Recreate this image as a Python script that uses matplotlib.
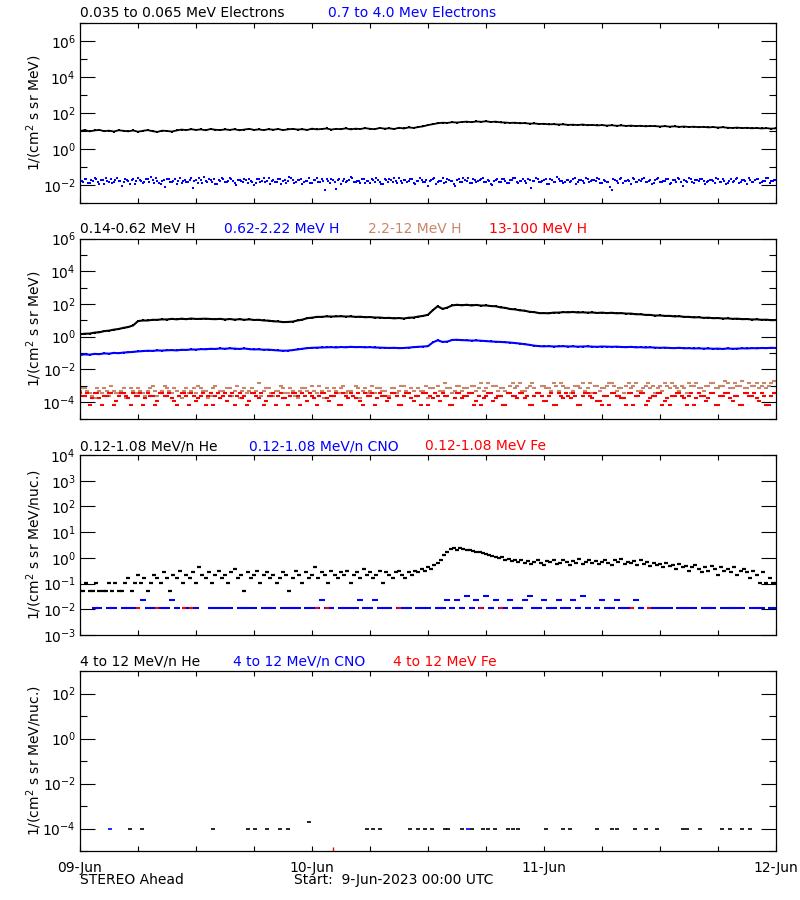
import numpy as np
import matplotlib
matplotlib.use('Agg')
import matplotlib.pyplot as plt
from matplotlib.ticker import FixedLocator, NullFormatter, FuncFormatter

# ---------------- data (hours since 09-Jun-2023 00:00 UTC) ----------------
day_labels = ['09-Jun', '10-Jun', '11-Jun', '12-Jun']
day_hours = [0, 24, 48, 72]
six_hours = [6, 12, 18, 30, 36, 42, 54, 60, 66]

t30 = np.arange(145) * 0.5          # 30-min samples
t30b = np.arange(144) * 0.5 + 0.25  # 30-min samples, offset 15 min
t20 = np.arange(217) / 3.0          # 20-min samples
t20b = np.arange(216) / 3.0 + 1 / 6  # 20-min samples, offset 10 min

# Panel 1: electrons, log10 flux
elec_lo_log = [1.00,1.05,0.98,1.03,1.06,0.99,1.02,0.97,1.04,1.01,
               0.98,1.03,0.96,1.01,1.05,0.99,0.95,1.02,1.00,0.97,
               1.03,1.08,1.05,1.10,1.06,1.09,1.04,1.11,1.07,1.05,
               1.09,1.06,1.10,1.04,1.08,1.12,1.06,1.09,1.05,1.10,
               1.07,1.11,1.05,1.09,1.12,1.08,1.10,1.06,1.13,1.09,
               1.11,1.14,1.08,1.12,1.10,1.15,1.09,1.13,1.11,1.16,
               1.12,1.10,1.17,1.13,1.15,1.11,1.18,1.14,1.20,1.17,
               1.22,1.26,1.33,1.38,1.43,1.46,1.45,1.49,1.47,1.50,
               1.52,1.49,1.53,1.51,1.54,1.50,1.52,1.48,1.47,1.45,
               1.46,1.43,1.44,1.41,1.42,1.39,1.40,1.37,1.38,1.36,
               1.37,1.34,1.35,1.33,1.36,1.32,1.34,1.31,1.33,1.30,
               1.32,1.29,1.31,1.28,1.30,1.27,1.29,1.26,1.28,1.27,
               1.25,1.27,1.24,1.26,1.23,1.25,1.22,1.24,1.21,1.23,
               1.20,1.22,1.19,1.21,1.18,1.17,1.19,1.16,1.18,1.15,
               1.17,1.14,1.16,1.13,1.15]

elec_hi_log = [-1.72,-1.85,-1.64,-1.90,-1.78,-1.68,-1.95,-1.74,-1.60,-1.82,
               -1.88,-1.70,-1.76,-2.05,-1.66,-1.80,-1.73,-1.92,-1.62,-1.79,
               -1.84,-1.69,-1.58,-1.87,-1.75,-1.97,-1.71,-1.65,-1.83,-1.77,
               -1.93,-1.61,-1.79,-1.86,-1.70,-2.18,-1.74,-1.63,-1.89,-1.76,
               -1.68,-1.81,-1.95,-1.72,-1.59,-1.84,-1.78,-1.67,-1.91,-1.73,
               -1.80,-1.64,-1.87,-1.75,-2.02,-1.69,-1.82,-1.60,-1.77,-1.94,
               -1.71,-1.85,-1.66,-1.79,-1.88,-1.57,-1.74,-1.83,-1.70,-1.96,
               -1.76,-1.62,-1.89,-1.73,-1.81,-1.67,-2.25,-1.78,-1.64,-1.86,
               -1.72,-1.92,-1.69,-1.80,-1.58,-1.84,-1.75,-1.90,-1.66,-1.79,
               -1.87,-1.71,-1.63,-1.83,-1.97,-1.74,-1.68,-1.82,-1.76,-1.61,
               -1.89,-1.73,-1.80,-1.65,-1.93,-1.77,-1.70,-1.85,-2.08,-1.72,
               -1.60,-1.81,-1.75,-1.88,-1.67,-1.79,-1.94,-1.71,-1.84,-1.63,
               -1.78,-1.90,-1.69,-1.82,-1.74,-1.59,-1.86,-1.76,-1.98,-1.70,
               -1.83,-1.66,-1.79,-1.91,-1.73,-1.62,-1.87,-1.75,-1.80,-1.68,
               -2.15,-1.77,-1.64,-1.85,-1.72,-1.92,-1.69,-1.81,-1.58,-1.76,
               -1.88,-1.71,-1.84,-1.66,-1.95,-1.74,-1.79,-1.61,-1.86,-1.73,
               -1.80,-1.67,-1.90,-1.75,-1.83,-2.30,-1.70,-1.87,-1.63,-1.78,
               -1.72,-1.93,-1.68,-1.82,-1.76,-1.59,-1.85,-1.74,-1.89,-1.66,
               -1.81,-1.77,-1.64,-1.92,-1.71,-1.84,-1.69,-2.04,-1.75,-1.62,
               -1.86,-1.73,-1.80,-1.67,-1.94,-1.78,-1.70,-1.88,-1.65,-1.83,
               -1.76,-1.91,-1.68,-1.79,-1.60,-1.85,-1.74,-1.97,-1.72,-1.81,
               -1.66,-1.87,-1.75,-1.63,-1.89,-1.77,-1.70]

elec_hi_log_b = [-1.79,-1.66,-1.88,-1.73,-1.62,-1.84,-1.70,-1.93,-1.77,-1.68,
                 -1.81,-1.59,-1.75,-1.86,-1.71,-1.96,-1.64,-1.80,-1.74,-1.90,
                 -1.67,-1.83,-1.72,-1.61,-1.87,-1.76,-2.10,-1.69,-1.82,-1.65,
                 -1.78,-1.91,-1.70,-1.84,-1.63,-1.77,-1.88,-1.72,-1.58,-1.85,
                 -1.74,-1.66,-1.92,-1.79,-1.68,-1.83,-1.61,-1.76,-2.00,-1.71,
                 -1.86,-1.73,-1.64,-1.81,-1.90,-1.67,-1.78,-1.85,-1.62,-1.75,
                 -1.82,-1.69,-1.94,-1.72,-1.80,-1.60,-1.87,-1.74,-1.66,-1.83,
                 -1.77,-1.89,-1.70,-1.63,-1.84,-1.76,-1.68,-1.91,-1.73,-2.20,
                 -1.65,-1.79,-1.86,-1.71,-1.60,-1.82,-1.75,-1.67,-1.88,-1.78,
                 -1.64,-1.85,-1.72,-1.95,-1.69,-1.81,-1.74,-1.62,-1.87,-1.77,
                 -1.70,-1.83,-1.66,-1.90,-1.76,-1.59,-1.84,-1.73,-1.80,-1.68,
                 -1.92,-1.75,-1.63,-1.86,-1.71,-1.79,-2.06,-1.67,-1.82,-1.74,
                 -1.61,-1.88,-1.72,-1.78,-1.65,-1.85,-1.70,-1.93,-1.76,-1.64,
                 -1.81,-1.69,-1.87,-1.74,-1.60,-1.83,-1.77,-1.66,-1.90,-1.72,
                 -1.79,-1.62,-1.85,-1.75,-1.68,-1.96,-1.73,-1.81,-1.64,-1.78,
                 -1.86,-1.70,-1.76,-1.59,-1.84,-1.72,-1.89,-1.67,-1.80,-1.74,
                 -1.63,-1.87,-1.71,-1.82,-2.12,-1.69,-1.77,-1.65,-1.91,-1.75,
                 -1.80,-1.61,-1.86,-1.73,-1.68,-1.84,-1.76,-1.94,-1.70,-1.62,
                 -1.83,-1.78,-1.66,-1.88,-1.72,-1.59,-1.85,-1.74,-1.81,-1.67,
                 -1.90,-1.73,-1.64,-1.79,-1.86,-1.70,-1.77,-1.62,-1.84,-1.68,
                 -1.92,-1.75,-1.81,-1.65,-1.87,-1.71,-1.78,-1.60,-1.83,-1.74,
                 -1.69,-1.85,-1.76,-1.63,-1.80,-1.72]

# Panel 2: protons, log10 flux
h1_log = [0.15,0.18,0.19,0.25,0.27,0.34,0.37,0.43,0.47,0.54,
          0.59,0.69,0.95,0.99,0.99,1.03,1.03,1.06,1.05,1.09,
          1.06,1.10,1.07,1.11,1.08,1.09,1.10,1.08,1.07,1.09,
          1.05,1.08,1.04,1.07,1.03,1.06,1.02,1.03,0.99,0.98,
          0.94,0.93,0.89,0.90,0.92,0.99,1.04,1.13,1.16,1.21,
          1.21,1.24,1.23,1.24,1.25,1.23,1.24,1.21,1.22,1.19,
          1.20,1.17,1.17,1.14,1.15,1.12,1.14,1.11,1.16,1.17,
          1.23,1.27,1.34,1.62,1.86,1.70,1.78,1.91,1.95,1.92,
          1.95,1.91,1.94,1.90,1.91,1.87,1.86,1.79,1.76,1.69,
          1.67,1.61,1.59,1.52,1.50,1.44,1.44,1.43,1.47,1.47,
          1.50,1.49,1.51,1.48,1.49,1.47,1.48,1.45,1.47,1.44,
          1.46,1.43,1.44,1.41,1.41,1.37,1.37,1.33,1.33,1.29,
          1.30,1.27,1.27,1.24,1.25,1.21,1.21,1.18,1.19,1.15,
          1.16,1.13,1.14,1.11,1.12,1.09,1.10,1.07,1.08,1.05,
          1.06,1.03,1.04,1.01,1.02]

h2_log = [-1.12,-1.08,-1.10,-1.05,-1.07,-1.02,-1.04,-0.99,-1.01,-0.97,
          -0.95,-0.93,-0.90,-0.88,-0.86,-0.87,-0.84,-0.85,-0.83,-0.82,
          -0.84,-0.80,-0.81,-0.78,-0.79,-0.76,-0.77,-0.74,-0.75,-0.72,
          -0.74,-0.71,-0.73,-0.75,-0.72,-0.76,-0.78,-0.77,-0.80,-0.79,
          -0.82,-0.84,-0.86,-0.85,-0.82,-0.78,-0.74,-0.70,-0.68,-0.67,
          -0.66,-0.65,-0.64,-0.66,-0.63,-0.65,-0.62,-0.64,-0.63,-0.65,
          -0.64,-0.66,-0.67,-0.68,-0.69,-0.68,-0.70,-0.69,-0.67,-0.64,
          -0.62,-0.60,-0.58,-0.35,-0.22,-0.32,-0.30,-0.20,-0.19,-0.21,
          -0.22,-0.24,-0.23,-0.25,-0.27,-0.29,-0.31,-0.32,-0.34,-0.36,
          -0.39,-0.42,-0.46,-0.50,-0.55,-0.58,-0.59,-0.58,-0.60,-0.59,
          -0.58,-0.60,-0.59,-0.61,-0.60,-0.59,-0.61,-0.62,-0.60,-0.61,
          -0.62,-0.61,-0.63,-0.64,-0.62,-0.65,-0.64,-0.66,-0.65,-0.67,
          -0.68,-0.67,-0.69,-0.70,-0.68,-0.71,-0.70,-0.72,-0.71,-0.73,
          -0.72,-0.74,-0.73,-0.75,-0.72,-0.74,-0.73,-0.71,-0.72,-0.70,
          -0.71,-0.69,-0.70,-0.68,-0.69]

h3_log = [-3.3,-3.15,-3.45,-3.75,-3.3,-3.15,-3.6,-3.3,-3.45,-3.15,
          -3.75,-3.3,-3.15,-3.45,-3.3,-3.0,-3.6,-3.3,-3.15,-3.45,
          -3.3,-3.75,-3.15,-3.3,-3.45,-3.15,-3.3,-3.6,-3.0,-3.3,
          -3.45,-3.15,-3.3,-3.75,-3.15,-3.3,-3.45,-2.85,-3.3,-3.15,
          -3.6,-3.3,-3.15,-3.45,-3.3,-3.75,-3.15,-3.3,-3.0,-3.45,
          -3.3,-3.15,-3.6,-3.3,-3.15,-3.45,-3.3,-3.0,-3.75,-3.15,
          -3.3,-3.45,-3.15,-3.3,-3.6,-3.15,-3.3,-3.0,-3.45,-3.3,
          -3.15,-3.3,-3.75,-3.15,-3.0,-3.3,-3.15,-3.45,-3.0,-3.3,
          -3.15,-3.0,-3.3,-2.85,-3.15,-3.45,-3.0,-3.15,-3.3,-3.0,
          -3.15,-2.85,-3.3,-3.0,-3.15,-3.45,-3.0,-3.15,-2.85,-3.3,
          -3.0,-3.15,-3.3,-3.0,-2.85,-3.15,-3.45,-3.0,-3.15,-3.0,
          -2.85,-3.3,-3.15,-3.0,-3.15,-2.85,-3.3,-3.0,-3.15,-3.45,
          -3.0,-2.85,-3.15,-3.0,-3.3,-3.15,-2.85,-3.0,-3.15,-3.3,
          -3.0,-2.85,-3.15,-3.0,-2.85,-3.15,-3.0,-2.7,-3.15,-3.0,
          -2.85,-3.0,-3.15,-2.85,-2.7]

h3_log_b = [-3.15,-3.3,-3.6,-3.15,-3.45,-3.3,-3.0,-3.45,-3.3,-3.75,
            -3.15,-3.45,-3.3,-3.6,-3.15,-3.3,-3.45,-3.0,-3.3,-3.15,
            -3.6,-3.3,-3.45,-3.15,-3.0,-3.3,-3.75,-3.15,-3.45,-3.3,
            -3.15,-3.6,-3.0,-3.3,-3.45,-3.15,-3.3,-3.6,-3.15,-3.45,
            -3.3,-3.0,-3.45,-3.15,-3.6,-3.3,-3.15,-3.45,-3.3,-3.0,
            -3.75,-3.3,-3.15,-3.45,-3.0,-3.3,-3.6,-3.15,-3.3,-3.45,
            -3.0,-3.15,-3.3,-3.6,-3.15,-3.45,-3.0,-3.3,-3.15,-3.6,
            -3.3,-3.0,-3.15,-3.45,-3.3,-2.85,-3.15,-3.3,-3.0,-3.15,
            -3.45,-3.0,-3.15,-3.3,-2.85,-3.0,-3.3,-3.15,-3.45,-2.85,
            -3.0,-3.3,-3.15,-2.85,-3.45,-3.0,-3.15,-3.3,-3.0,-2.85,
            -3.15,-3.45,-3.0,-3.15,-3.3,-2.85,-3.0,-3.3,-3.15,-2.85,
            -3.0,-3.15,-3.45,-2.85,-3.0,-3.3,-3.15,-2.85,-3.0,-3.15,
            -3.3,-3.0,-2.85,-3.15,-3.0,-3.45,-3.0,-2.85,-3.15,-3.0,
            -2.85,-3.15,-3.0,-2.7,-3.15,-2.85,-3.0,-3.15,-2.85,-3.0,
            -3.15,-2.85,-3.0,-2.7]

h4_log = [-3.45,-3.6,-4.2,-3.45,-3.75,-3.6,-3.45,-4.2,-3.6,-3.45,
          -3.75,-3.45,-3.6,-4.2,-3.45,-3.6,-3.9,-3.45,-3.6,-3.75,
          -4.2,-3.45,-3.6,-3.45,-3.9,-3.6,-4.2,-3.45,-3.6,-3.75,
          -3.45,-3.6,-4.2,-3.45,-3.6,-3.9,-3.45,-3.75,-4.2,-3.6,
          -3.45,-3.6,-3.75,-4.2,-3.45,-3.6,-3.45,-3.9,-3.6,-4.2,
          -3.45,-3.75,-3.6,-3.45,-4.2,-3.6,-3.45,-3.75,-3.9,-3.45,
          -3.6,-4.2,-3.45,-3.6,-3.75,-3.45,-4.2,-3.6,-3.45,-3.9,
          -3.6,-3.45,-4.2,-3.75,-3.6,-3.45,-3.6,-4.2,-3.45,-3.75,
          -3.6,-3.45,-3.9,-4.2,-3.6,-3.45,-3.75,-3.6,-4.2,-3.45,
          -3.6,-3.45,-3.75,-4.2,-3.6,-3.45,-3.9,-3.6,-4.2,-3.45,
          -3.75,-3.6,-3.45,-4.2,-3.6,-3.45,-3.75,-3.9,-4.2,-3.6,
          -3.45,-3.6,-3.75,-4.2,-3.45,-3.6,-3.45,-4.2,-3.75,-3.6,
          -3.45,-3.9,-4.2,-3.6,-3.45,-3.75,-3.6,-4.2,-3.45,-3.6,
          -3.75,-3.45,-4.2,-3.6,-3.45,-3.9,-3.6,-4.2,-3.45,-3.6,
          -3.75,-3.45,-4.2,-3.6,-3.45]

h4_log_b = [-3.6,-3.45,-3.75,-3.45,-4.2,-3.6,-3.45,-3.9,-3.45,-3.6,
            -4.2,-3.6,-3.45,-3.75,-3.6,-4.2,-3.45,-3.6,-3.45,-3.9,
            -3.6,-3.45,-4.2,-3.6,-3.75,-3.45,-3.6,-4.2,-3.45,-3.6,
            -3.9,-3.45,-3.6,-3.75,-4.2,-3.45,-3.6,-3.45,-3.9,-3.6,
            -4.2,-3.45,-3.75,-3.6,-3.45,-4.2,-3.6,-3.45,-3.75,-3.6,
            -3.45,-3.9,-3.6,-4.2,-3.45,-3.75,-3.6,-3.45,-4.2,-3.6,
            -3.45,-3.75,-3.6,-3.9,-3.45,-3.6,-4.2,-3.45,-3.75,-3.6,
            -4.2,-3.45,-3.6,-3.45,-3.9,-3.6,-4.2,-3.75,-3.45,-3.6,
            -3.45,-4.2,-3.6,-3.75,-3.45,-3.9,-3.6,-4.2,-3.45,-3.6,
            -3.75,-3.45,-3.6,-4.2,-3.45,-3.6,-3.9,-3.45,-4.2,-3.6,
            -3.45,-3.75,-3.6,-4.2,-3.45,-3.6,-3.45,-3.9,-3.6,-4.2,
            -3.45,-3.6,-3.75,-3.45,-4.2,-3.6,-3.45,-3.9,-3.6,-3.45,
            -4.2,-3.75,-3.6,-3.45,-3.6,-4.2,-3.45,-3.75,-3.6,-3.9,
            -3.45,-4.2,-3.6,-3.45,-3.75,-3.6,-4.2,-3.45,-3.6,-3.45,
            -3.9,-3.6,-4.2,-3.45]

# Panel 3: 0.12-1.08 MeV/n ions, flux (20-min He, 30-min CNO)
he_lo = [0.05,0.05,0.11,0.05,0.05,0.11,0.05,0.05,0.05,0.11,
         0.05,0.11,0.05,0.05,0.11,0.16,0.05,0.11,0.22,0.11,
         0.16,0.05,0.11,0.22,0.16,0.11,0.27,0.16,0.05,0.22,
         0.16,0.32,0.11,0.22,0.16,0.27,0.11,0.43,0.22,0.16,
         0.27,0.11,0.22,0.32,0.16,0.22,0.11,0.27,0.38,0.16,
         0.22,0.05,0.27,0.16,0.22,0.32,0.11,0.22,0.27,0.16,
         0.22,0.11,0.16,0.27,0.22,0.05,0.16,0.32,0.22,0.11,
         0.27,0.16,0.22,0.43,0.16,0.27,0.22,0.11,0.32,0.22,
         0.16,0.27,0.22,0.32,0.11,0.22,0.27,0.16,0.38,0.22,
         0.27,0.16,0.22,0.32,0.11,0.27,0.22,0.16,0.27,0.32,
         0.22,0.16,0.27,0.22,0.32,0.27,0.38,0.32,0.43,0.38,
         0.54,0.65,0.86,1.30,1.62,2.16,2.48,2.05,2.38,2.16,
         1.94,2.05,1.84,1.62,1.73,1.51,1.40,1.30,1.19,1.08,
         0.97,1.08,0.86,0.92,0.76,0.86,0.70,0.81,0.65,0.76,
         0.59,0.70,0.81,0.65,0.54,0.76,0.70,0.86,0.59,0.65,
         0.81,0.70,0.54,0.76,0.65,0.92,0.59,0.70,0.81,0.65,
         0.76,0.59,0.70,0.86,0.65,0.54,0.81,0.70,0.92,0.59,
         0.70,0.65,0.76,0.54,0.81,0.59,0.70,0.49,0.65,0.54,
         0.59,0.43,0.65,0.49,0.54,0.38,0.59,0.43,0.49,0.32,
         0.43,0.54,0.38,0.27,0.43,0.32,0.49,0.38,0.22,0.43,
         0.32,0.38,0.27,0.43,0.22,0.32,0.38,0.27,0.16,0.32,
         0.22,0.11,0.27,0.11,0.16,0.11,0.11]

N = None
cno_lo = [N,N,N,0.011,0.011,N,0.011,0.011,N,0.011,
          0.011,0.011,N,0.022,0.011,0.011,N,0.011,0.011,0.022,
          0.011,N,0.011,0.011,0.011,N,N,0.011,0.011,0.011,
          0.011,0.011,N,0.011,0.011,0.011,0.011,N,0.011,0.011,
          0.011,N,0.011,0.011,0.011,0.011,N,0.011,0.011,0.011,
          0.022,0.011,0.011,N,0.011,0.011,0.011,0.011,0.022,0.011,
          0.011,0.022,0.011,0.011,0.011,N,0.011,0.011,0.011,N,
          0.011,0.011,0.011,N,0.011,0.011,0.022,0.011,0.022,0.011,
          0.033,0.011,0.022,0.011,0.033,0.011,0.022,0.011,0.011,0.022,
          0.011,0.011,0.022,0.033,0.011,0.011,0.022,0.011,0.011,0.022,
          0.011,0.011,0.022,0.011,0.033,0.011,N,0.011,0.022,0.011,
          0.011,0.022,0.011,0.011,0.011,0.022,0.011,N,0.011,0.011,
          0.011,0.011,0.011,N,0.011,0.011,0.011,0.011,N,0.011,
          0.011,0.011,N,0.011,0.011,0.011,0.011,0.011,N,0.011,
          0.011,0.011,N,0.011,0.011]

fe_lo_t = [6.0, 8.0, 10.8, 11.5, 24.5, 25.5, 33.0, 41.5, 43.6, 57.1, 58.9]
fe_lo = [0.011, 0.011, 0.011, 0.011, 0.011, 0.011, 0.011, 0.011, 0.011, 0.011, 0.011]

# Panel 4: 4-12 MeV/n ions
he_hi_t = [5.2, 6.4, 13.8, 17.4, 18.1, 19.3, 20.7, 21.5, 23.7, 29.7, 30.3, 31.0,
           34.1, 35.0, 35.7, 36.4, 37.8, 38.1, 39.5, 40.6, 41.7, 42.2, 42.9, 44.3,
           44.8, 45.3, 48.2, 50.0, 50.7, 53.5, 55.0, 55.5, 57.4, 58.6, 59.7, 62.4,
           62.8, 64.1, 66.4, 67.2, 68.5, 69.3]
he_hi = [1e-4, 1e-4, 1e-4, 1e-4, 1e-4, 1e-4, 1e-4, 1e-4, 2e-4, 1e-4, 1e-4, 1e-4,
         1e-4, 1e-4, 1e-4, 1e-4, 1e-4, 1e-4, 1e-4, 1e-4, 1e-4, 1e-4, 1e-4, 1e-4,
         1e-4, 1e-4, 1e-4, 1e-4, 1e-4, 1e-4, 1e-4, 1e-4, 1e-4, 1e-4, 1e-4, 1e-4,
         1e-4, 1e-4, 1e-4, 1e-4, 1e-4, 1e-4]
cno_hi_t = [3.1, 40.1]
cno_hi = [1e-4, 1e-4]
fe_hi_t = [26.2]
fe_hi = [1.2e-5]

BROWN = '#C8866A'
FS = 10
plt.rcParams['font.family'] = ['DejaVu Sans']
plt.rcParams['mathtext.fontset'] = 'dejavusans'

fig = plt.figure(figsize=(8, 9), dpi=100)


def make_ax(top_px, lo, hi, major, minor, bottom=False):
    ax = fig.add_axes([80 / 800, 1 - (top_px + 180) / 900, 696 / 800, 180 / 900])
    ax.set_yscale('log')
    ax.set_ylim(lo, hi)
    ax.set_xlim(0, 72)
    ax.yaxis.set_major_locator(FixedLocator(major))
    ax.yaxis.set_minor_locator(FixedLocator(minor))
    ax.yaxis.set_major_formatter(FuncFormatter(lambda v, p: r'$10^{%d}$' % round(np.log10(v))))
    ax.yaxis.set_minor_formatter(NullFormatter())
    ax.xaxis.set_major_locator(FixedLocator(day_hours))
    ax.xaxis.set_minor_locator(FixedLocator(six_hours))
    ax.tick_params(which='both', direction='in', top=True, right=True, width=0.8,
                   labelsize=FS, pad=3)
    ax.tick_params(axis='y', which='major', length=11)
    ax.tick_params(axis='y', which='minor', length=5)
    ax.tick_params(axis='x', which='both', length=3.5, pad=7)
    if bottom:
        ax.set_xticks(day_hours)
        ax.set_xticklabels(day_labels)
    else:
        ax.tick_params(axis='x', labelbottom=False)
    for s in ax.spines.values():
        s.set_linewidth(0.9)
    return ax


def title(y_px, items):
    for x_px, txt, col in items:
        fig.text(x_px / 800, 1 - y_px / 900, txt, color=col, fontsize=FS,
                 ha='left', va='center')


def ylab(top_px, txt):
    fig.text(34 / 800, 1 - (top_px + 90) / 900, txt, rotation=90, fontsize=FS,
             ha='center', va='center')


# Panel 1
ax1 = make_ax(23, 1e-3, 1e7, [1e-2, 1e0, 1e2, 1e4, 1e6], [1e-3, 1e-1, 1e1, 1e3, 1e5, 1e7])
ax1.plot(t30, 10 ** np.array(elec_lo_log), color='black', lw=1.3)
ax1.plot(t30, 10 ** np.array(elec_lo_log), 's', color='black', ms=2.0, mew=0)
ax1.plot(t20, 10 ** np.array(elec_hi_log), 's', color='blue', ms=1.7, mew=0)
ax1.plot(t20b, 10 ** np.array(elec_hi_log_b), 's', color='blue', ms=1.7, mew=0)
title(13, [(80, '0.035 to 0.065 MeV Electrons', 'black'),
           (328, '0.7 to 4.0 Mev Electrons', 'blue')])
ylab(23, '1/(cm$^2$ s sr MeV)')

# Panel 2
ax2 = make_ax(238.5, 1e-5, 1e6, [1e-4, 1e-2, 1e0, 1e2, 1e4, 1e6], [1e-5, 1e-3, 1e-1, 1e1, 1e3, 1e5])
ax2.plot(t30, 10 ** np.array(h3_log), '_', color=BROWN, ms=3.0, mew=1.5)
ax2.plot(t30b, 10 ** np.array(h3_log_b), '_', color=BROWN, ms=3.0, mew=1.5)
ax2.plot(t30, 10 ** np.array(h4_log), '_', color='red', ms=3.0, mew=1.5)
ax2.plot(t30b, 10 ** np.array(h4_log_b), '_', color='red', ms=3.0, mew=1.5)
ax2.plot(t30, 10 ** np.array(h2_log), color='blue', lw=1.5)
ax2.plot(t30, 10 ** np.array(h2_log), 's', color='blue', ms=2.0, mew=0)
ax2.plot(t30, 10 ** np.array(h1_log), color='black', lw=1.5)
ax2.plot(t30, 10 ** np.array(h1_log), 's', color='black', ms=2.0, mew=0)
title(229, [(80, '0.14-0.62 MeV H', 'black'), (224, '0.62-2.22 MeV H', 'blue'),
            (368, '2.2-12 MeV H', BROWN), (489, '13-100 MeV H', 'red')])
ylab(238.5, '1/(cm$^2$ s sr MeV)')

# Panel 3
ax3 = make_ax(455, 1e-3, 1e4, [1e-3, 1e-2, 1e-1, 1e0, 1e1, 1e2, 1e3, 1e4], [])
ax3.plot(t20, he_lo, '_', color='black', ms=2.4, mew=1.6)
ax3.plot(t30, np.array(cno_lo, dtype=float), '_', color='blue', ms=3.8, mew=1.5)
ax3.plot(fe_lo_t, fe_lo, '_', color='red', ms=2.5, mew=1.5)
title(446, [(80, '0.12-1.08 MeV/n He', 'black'), (249, '0.12-1.08 MeV/n CNO', 'blue'),
            (425, '0.12-1.08 MeV Fe', 'red')])
ylab(455, '1/(cm$^2$ s sr MeV/nuc.)')

# Panel 4
ax4 = make_ax(671, 1e-5, 1e3, [1e-4, 1e-2, 1e0, 1e2], [1e-5, 1e-3, 1e-1, 1e1, 1e3], bottom=True)
ax4.plot(he_hi_t, he_hi, '_', color='black', ms=2.4, mew=1.2)
ax4.plot(cno_hi_t, cno_hi, '_', color='blue', ms=2.4, mew=1.2)
ax4.plot(fe_hi_t, fe_hi, '|', color='red', ms=2.4, mew=1.0)
title(661.5, [(80, '4 to 12 MeV/n He', 'black'), (233, '4 to 12 MeV/n CNO', 'blue'),
              (393, '4 to 12 MeV Fe', 'red')])
ylab(671, '1/(cm$^2$ s sr MeV/nuc.)')

fig.text(80 / 800, 1 - 880 / 900, 'STEREO Ahead', fontsize=FS, ha='left', va='center')
fig.text(294 / 800, 1 - 880 / 900, 'Start:  9-Jun-2023 00:00 UTC', fontsize=FS,
         ha='left', va='center')

fig.savefig('out.png', dpi=100)
